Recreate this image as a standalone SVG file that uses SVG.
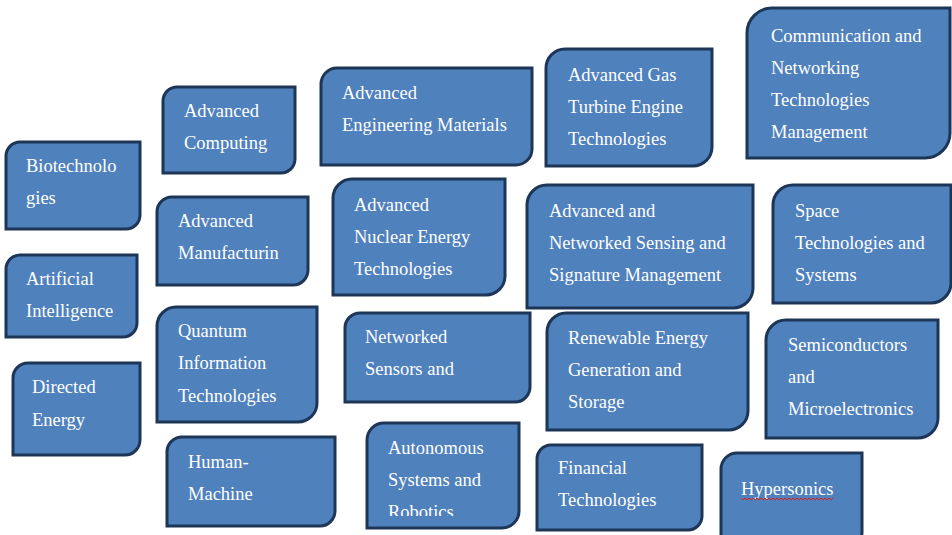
<svg xmlns="http://www.w3.org/2000/svg" width="952" height="535" viewBox="0 0 952 535">
<style>
.box{fill:#4F81BD;stroke:#1D3657;stroke-width:3}
text{font-family:"Liberation Serif","Times New Roman",serif;font-size:18.5px;fill:#FFFFFF}
</style>
<defs>
<clipPath id="clipAuto"><rect x="367" y="423" width="152" height="93"/></clipPath>
</defs>
<rect width="952" height="535" fill="#FFFFFF"/>
<g id="biotech">
<path class="box" d="M20,142 H140 V215 A14,14 0 0 1 126,229 H6 V156 A14,14 0 0 1 20,142 Z"/>
<text x="26" y="172">Biotechnolo</text><text x="26" y="204">gies</text>
</g>
<g id="computing">
<path class="box" d="M177,87 H295 V159 A14,14 0 0 1 281,173 H163 V101 A14,14 0 0 1 177,87 Z"/>
<text x="184" y="117">Advanced</text><text x="184" y="149">Computing</text>
</g>
<g id="engmat">
<path class="box" d="M337,68 H532 V149 A16,16 0 0 1 516,165 H321 V84 A16,16 0 0 1 337,68 Z"/>
<text x="342" y="99">Advanced</text><text x="342" y="131">Engineering Materials</text>
</g>
<g id="gasturbine">
<path class="box" d="M565,49 H712 V147 A19,19 0 0 1 693,166 H546 V68 A19,19 0 0 1 565,49 Z"/>
<text x="568" y="81">Advanced Gas</text><text x="568" y="113">Turbine Engine</text><text x="568" y="145">Technologies</text>
</g>
<g id="comm">
<path class="box" d="M772,8 H950 V133 A25,25 0 0 1 925,158 H747 V33 A25,25 0 0 1 772,8 Z"/>
<text x="771" y="42">Communication and</text><text x="771" y="74">Networking</text><text x="771" y="106">Technologies</text><text x="771" y="138">Management</text>
</g>
<g id="ai">
<path class="box" d="M20,255 H137 V323 A14,14 0 0 1 123,337 H6 V269 A14,14 0 0 1 20,255 Z"/>
<text x="26" y="285">Artificial</text><text x="26" y="317">Intelligence</text>
</g>
<g id="directed">
<path class="box" d="M28,363 H140 V440 A15,15 0 0 1 125,455 H13 V378 A15,15 0 0 1 28,363 Z"/>
<text x="32" y="393">Directed</text><text x="32" y="426">Energy</text>
</g>
<g id="manuf">
<path class="box" d="M172,197 H308 V270 A15,15 0 0 1 293,285 H157 V212 A15,15 0 0 1 172,197 Z"/>
<text x="178" y="227">Advanced</text><text x="178" y="259">Manufacturin</text>
</g>
<g id="quantum">
<path class="box" d="M176,307 H317 V403 A19,19 0 0 1 298,422 H157 V326 A19,19 0 0 1 176,307 Z"/>
<text x="178" y="337">Quantum</text><text x="178" y="369">Information</text><text x="178" y="402">Technologies</text>
</g>
<g id="nuclear">
<path class="box" d="M352,179 H505 V276 A19,19 0 0 1 486,295 H333 V198 A19,19 0 0 1 352,179 Z"/>
<text x="354" y="211">Advanced</text><text x="354" y="243">Nuclear Energy</text><text x="354" y="275">Technologies</text>
</g>
<g id="sensing">
<path class="box" d="M547,185 H753 V288 A20,20 0 0 1 733,308 H527 V205 A20,20 0 0 1 547,185 Z"/>
<text x="549" y="217">Advanced and</text><text x="549" y="249">Networked Sensing and</text><text x="549" y="281">Signature Management</text>
</g>
<g id="space">
<path class="box" d="M793,185 H951 V283 A20,20 0 0 1 931,303 H773 V205 A20,20 0 0 1 793,185 Z"/>
<text x="795" y="217">Space</text><text x="795" y="249">Technologies and</text><text x="795" y="281">Systems</text>
</g>
<g id="semi">
<path class="box" d="M786,320 H938 V418 A20,20 0 0 1 918,438 H766 V340 A20,20 0 0 1 786,320 Z"/>
<text x="788" y="351">Semiconductors</text><text x="788" y="383">and</text><text x="788" y="415">Microelectronics</text>
</g>
<g id="netsensors">
<path class="box" d="M360,313 H530 V387 A15,15 0 0 1 515,402 H345 V328 A15,15 0 0 1 360,313 Z"/>
<text x="365" y="343">Networked</text><text x="365" y="375">Sensors and</text>
</g>
<g id="renewable">
<path class="box" d="M566,313 H748 V411 A19,19 0 0 1 729,430 H547 V332 A19,19 0 0 1 566,313 Z"/>
<text x="568" y="344">Renewable Energy</text><text x="568" y="376">Generation and</text><text x="568" y="408">Storage</text>
</g>
<g id="humanmachine">
<path class="box" d="M182,437 H335 V511 A15,15 0 0 1 320,526 H167 V452 A15,15 0 0 1 182,437 Z"/>
<text x="188" y="468">Human-</text><text x="188" y="500">Machine</text>
</g>
<g id="autonomous">
<path class="box" d="M384,423 H519 V511 A17,17 0 0 1 502,528 H367 V440 A17,17 0 0 1 384,423 Z"/>
<g clip-path="url(#clipAuto)"><text x="388" y="454">Autonomous</text><text x="388" y="486">Systems and</text><text x="388" y="518">Robotics</text></g>
</g>
<g id="fintech">
<path class="box" d="M551,445 H702 V516 A14,14 0 0 1 688,530 H537 V459 A14,14 0 0 1 551,445 Z"/>
<text x="558" y="474">Financial</text><text x="558" y="506">Technologies</text>
</g>
<g id="hypersonics">
<path class="box" d="M737,453 H862 V532 A16,16 0 0 1 846,548 H721 V469 A16,16 0 0 1 737,453 Z"/>
<text x="741" y="495">Hypersonics</text>
<polyline points="741,498 743,500 745,498 747,500 749,498 751,500 753,498 755,500 757,498 759,500 761,498 763,500 765,498 767,500 769,498 771,500 773,498 775,500 777,498 779,500 781,498 783,500 785,498 787,500 789,498 791,500 793,498 795,500 797,498 799,500 801,498 803,500 805,498 807,500 809,498 811,500 813,498 815,500 817,498 819,500 821,498 823,500 825,498 827,500 829,498 831,500 833,498" fill="none" stroke="#E02020" stroke-width="1"/>
</g>
</svg>
